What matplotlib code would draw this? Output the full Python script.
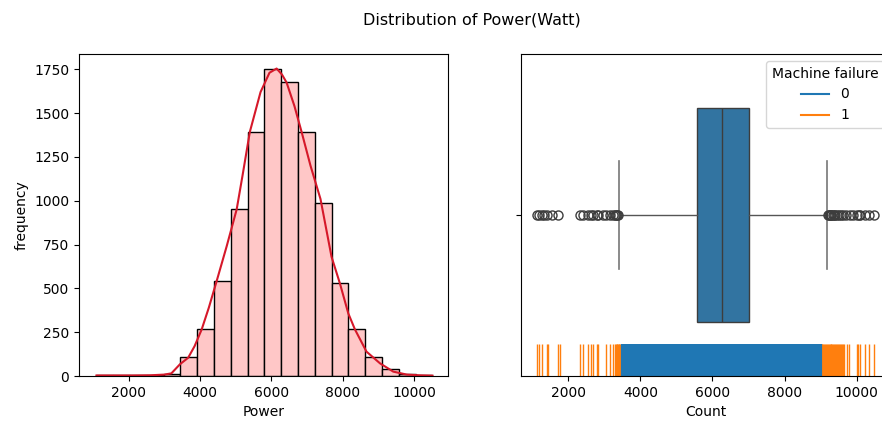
import numpy as np
import matplotlib
matplotlib.use("Agg")
import matplotlib.pyplot as plt
from matplotlib.lines import Line2D

# histogram of Power (20 bins over the data range)
power_min = 1100
power_max = 10520
n_bins = 20
counts = [4, 3, 3, 5, 14, 106, 266, 542, 952, 1390,
          1750, 1675, 1390, 989, 529, 266, 106, 38, 14, 4]

# kde curve
kde_x = [1100, 1600, 2100, 2600, 3000, 3200, 3440, 3670, 3850, 4050, 4250, 4470,
         4750, 5030, 5200, 5400, 5700, 5950, 6150, 6300, 6430, 6650, 6850, 7100,
         7380, 7690, 7925, 8160, 8345, 8670, 9050, 9420, 9800, 10150, 10520]
kde_y = [3, 3, 3, 4, 8, 15, 67, 104, 170, 266, 390, 542,
         740, 950, 1150, 1393, 1620, 1730, 1754, 1720, 1674, 1540, 1393, 1200,
         1010, 680, 528, 357, 266, 139, 72, 25, 8, 4, 2]

# box plot summary
q1, med, q3 = 5580, 6255, 7010
whis_lo, whis_hi = 3410, 9170
fliers = [1130, 1200, 1260, 1330, 1400, 1560, 1710,
          2330, 2400, 2560, 2620, 2690, 2790, 2830, 2950, 3050, 3160, 3250,
          3290, 3320, 3350, 3380,
          9200, 9220, 9250, 9280, 9300, 9330, 9360, 9400, 9450, 9500, 9560,
          9620, 9700, 9800, 9900, 10000, 10050, 10100, 10230, 10350, 10480]

# rug values, Machine failure = 1
rug_fail = [1140, 1196, 1262, 1401, 1445, 1723, 1770,
            2325, 2399, 2555, 2621, 2693, 2788, 2832, 3046, 3157, 3248,
            3300, 3320, 3340, 3360, 3380, 3400, 3420, 3440, 3460, 3480, 3500,
            9000, 9025, 9050, 9075, 9100, 9125, 9150, 9175, 9200, 9225, 9250,
            9275, 9300, 9325, 9350, 9375, 9400, 9425, 9450, 9480, 9510, 9540,
            9570, 9600, 9630, 9660, 9722, 9795, 10000, 10045, 10091, 10230,
            10350, 10480]
# rug values, Machine failure = 0
rug_ok = [3526, 3580, 3640, 3700, 3755, 3810, 3870, 3925, 3985, 4040,
          4100, 4155, 4215, 4270, 4330, 4385, 4440, 4500, 4555, 4615,
          4670, 4730, 4785, 4845, 4900, 4960, 5015, 5070, 5130, 5185,
          5245, 5300, 5360, 5415, 5470, 5530, 5585, 5645, 5700, 5760,
          5815, 5870, 5930, 5985, 6045, 6100, 6160, 6215, 6270, 6330,
          6385, 6445, 6500, 6560, 6615, 6670, 6730, 6785, 6845, 6900,
          6960, 7015, 7070, 7130, 7185, 7245, 7300, 7360, 7415, 7470,
          7530, 7585, 7645, 7700, 7760, 7815, 7870, 7930, 7985, 8045,
          8100, 8160, 8215, 8270, 8330, 8385, 8445, 8500, 8560, 8615,
          8670, 8730, 8785, 8845, 8900, 8960, 8982]

edges = np.linspace(power_min, power_max, n_bins + 1)
centers = (edges[:-1] + edges[1:]) / 2

plt.rcParams['font.family'] = 'DejaVu Sans'
plt.rcParams['font.size'] = 10

fig = plt.figure(figsize=(8.82, 4.21), dpi=100)
ax1 = fig.add_axes([79/882, 45/421, 369/882, 322/421])
ax2 = fig.add_axes([521/882, 45/421, 370/882, 322/421])

# left: histogram + kde
ax1.hist(centers, bins=edges, weights=counts, facecolor=(1.0, 0.78, 0.78),
         edgecolor='black', linewidth=1)
ax1.plot(kde_x, kde_y, color='#d6182a', linewidth=1.5)
ax1.set_xlim(610, 10955)
ax1.set_ylim(0, 1837)
ax1.set_xticks([2000, 4000, 6000, 8000, 10000])
ax1.set_yticks(np.arange(0, 1751, 250))
ax1.set_xlabel("Power")
ax1.set_ylabel("frequency")

# right: box plot + rug
stats = [dict(med=med, q1=q1, q3=q3, whislo=whis_lo, whishi=whis_hi, fliers=fliers)]
ax2.bxp(stats, positions=[0], vert=False, widths=0.8, patch_artist=True,
        boxprops=dict(facecolor='#3274a1', edgecolor='#3d3d3d', linewidth=1),
        medianprops=dict(color='#3d3d3d', linewidth=1),
        whiskerprops=dict(color='#555555', linewidth=1),
        capprops=dict(color='#777777', linewidth=1.2),
        flierprops=dict(marker='o', markerfacecolor='none',
                        markeredgecolor='#3d3d3d', markersize=6.5))
trans = ax2.get_xaxis_transform()
ax2.vlines(rug_fail, 0, 0.1, colors='#ff7f0e', linewidth=1, transform=trans)
ax2.vlines(rug_ok, 0, 0.1, colors='#1f77b4', linewidth=3, transform=trans)
ax2.set_xlim(690, 10950)
ax2.set_ylim(0.6, -0.6)
ax2.set_yticks([0])
ax2.set_yticklabels([''])
ax2.set_xticks([2000, 4000, 6000, 8000, 10000])
ax2.set_xticklabels(['2000', '4000', '6000', '8000', '10000'])
ax2.set_xlabel("Count")

handles = [Line2D([], [], color='#1f77b4', linewidth=1.5),
           Line2D([], [], color='#ff7f0e', linewidth=1.5)]
ax2.legend(handles, ['0', '1'], title="Machine failure", loc='upper right')

fig.text(472/882, 1 - 20/421, "Distribution of Power(Watt)", ha='center',
         va='center', fontsize=11.5)

fig.savefig("out.png", dpi=100)
